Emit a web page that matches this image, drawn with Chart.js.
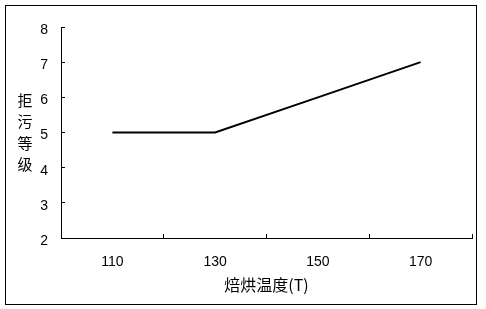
<!DOCTYPE html>
<html><head><meta charset="utf-8">
<script src="https://cdn.jsdelivr.net/npm/chart.js"></script>
<style>html,body{margin:0;padding:0;background:#fff;}</style>
</head><body>
<canvas id="c" width="486" height="309"></canvas>
<script>
const categories = ['110', '130', '150', '170'];
const values = [5, 5, 6, 7];
const yMin = 2, yMax = 8, yStep = 1;
const xTitle = '焙烘温度(T)';
const yTitleChars = ['拒', '污', '等', '级'];

const numFont = { family: '"Liberation Sans", Arial, sans-serif', size: 14 };
const cjkFont = '"Noto Sans CJK SC", sans-serif';

const framePlugin = {
  id: 'frame',
  beforeDraw(chart) {
    const ctx = chart.ctx;
    ctx.save();
    ctx.fillStyle = '#fff';
    ctx.fillRect(0, 0, chart.width, chart.height);
    ctx.restore();
  },
  afterDraw(chart) {
    const ctx = chart.ctx;
    const a = chart.chartArea;
    ctx.save();
    ctx.strokeStyle = '#000';
    ctx.lineWidth = 1;
    ctx.strokeRect(5.5, 5.5, 471, 299);
    ctx.fillStyle = '#000';
    ctx.font = '15px ' + cjkFont;
    ctx.textAlign = 'center';
    ctx.textBaseline = 'middle';
    const cy = (a.top + a.bottom) / 2;
    const sp = 21.5;
    yTitleChars.forEach((ch, i) => {
      ctx.fillText(ch, 25, cy + (i - (yTitleChars.length - 1) / 2) * sp);
    });
    ctx.restore();
  }
};

new Chart(document.getElementById('c'), {
  type: 'line',
  data: {
    labels: categories,
    datasets: [{
      data: values,
      borderColor: '#000',
      borderWidth: 2,
      pointRadius: 0,
      tension: 0,
      fill: false
    }]
  },
  options: {
    responsive: false,
    animation: false,
    devicePixelRatio: 1,
    layout: { padding: { left: 0, right: 14, top: 27, bottom: 0 } },
    plugins: { legend: { display: false }, tooltip: { enabled: false } },
    scales: {
      x: {
        type: 'category',
        offset: true,
        grid: { offset: true, drawOnChartArea: false, color: '#000', tickLength: -4, lineWidth: 1 },
        border: { color: '#000', width: 1 },
        ticks: { color: '#000', font: numFont, padding: 20, maxRotation: 0 },
        title: { display: true, text: xTitle, color: '#000', font: { family: cjkFont, size: 16 }, padding: { top: 0, bottom: 14 } },
        afterFit(s) { s.height = 71; }
      },
      y: {
        min: yMin, max: yMax,
        ticks: { stepSize: yStep, color: '#000', font: numFont, padding: 17, labelOffset: 3 },
        grid: { drawOnChartArea: false, color: '#000', tickLength: -4, lineWidth: 1 },
        border: { color: '#000', width: 1 },
        afterFit(s) { s.width = 61; }
      }
    }
  },
  plugins: [framePlugin]
});
</script>
</body></html>
